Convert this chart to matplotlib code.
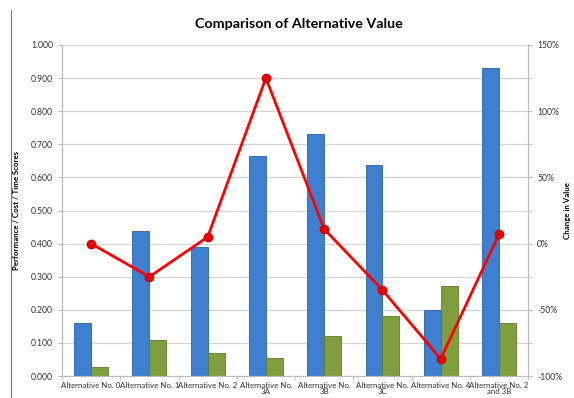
import numpy as np
from matplotlib import pyplot as plt
from matplotlib.lines import Line2D
from matplotlib.ticker import FuncFormatter

plt.rcParams['font.family'] = ['Lato', 'DejaVu Sans']

## DATA:
categories = ["Alternative No. 0", "Alternative No. 1", "Alternative No. 2",
              "Alternative No.\n3A", "Alternative No.\n3B", "Alternative No.\n3C",
              "Alternative No. 4", "Alternative No. 2\nand 3B"]
performance = [0.160, 0.438, 0.390, 0.665, 0.731, 0.637, 0.199, 0.930]
cost_time   = [0.027, 0.109, 0.069, 0.054, 0.121, 0.181, 0.272, 0.160]
change_pct  = [0, -25, 5, 125, 11, -35, -87, 7]
## END DATA

x = np.arange(len(categories))
w = 0.29

fig = plt.figure(figsize=(5.74, 3.98), dpi=100)
ax = fig.add_axes([0.108, 0.055, 0.812, 0.832])

ax.bar(x - w/2, performance, w, color='#3f7fd0', edgecolor='#2e5f9e', linewidth=0.6, zorder=2)
ax.bar(x + w/2, cost_time, w, color='#7f9f3f', edgecolor='#5f7a2c', linewidth=0.6, zorder=2)

ax.set_xlim(-0.5, len(categories) - 0.5)
ax.set_ylim(0, 1.0)
ax.set_yticks(np.arange(0, 1.01, 0.1))
ax.yaxis.set_major_formatter(FuncFormatter(lambda v, p: "%.3f" % v))
ax.grid(axis='y', color='#d4d4d4', linewidth=0.9, zorder=0)
ax.set_axisbelow(True)

ax.set_xticks(x)
ax.set_xticklabels(categories, fontsize=5.7, color='#333333', linespacing=0.9)
ax.set_xticks(np.arange(-0.5, len(categories), 1), minor=True)
ax.tick_params(axis='x', which='major', length=0, pad=4)
ax.tick_params(axis='x', which='minor', length=3, color='#bbbbbb')
ax.tick_params(axis='y', labelsize=6.2, length=3, color='#bbbbbb', labelcolor='#333333')
for s in ax.spines.values():
    s.set_color('#bbbbbb')
ax.spines['top'].set_visible(False)
ax.set_ylabel("Performance / Cost / Time Scores", fontsize=5.7, fontweight='bold')
ax.yaxis.set_label_coords(-0.09, 0.5)

ax2 = ax.twinx()
ax2.plot(x, change_pct, color='#ff0000', linewidth=2, marker='o', markersize=6,
         markerfacecolor='#ee0000', markeredgecolor='#cc0000', zorder=3)
ax2.set_ylim(-100, 150)
ax2.set_yticks(np.arange(-100, 151, 50))
ax2.yaxis.set_major_formatter(FuncFormatter(lambda v, p: "%d%%" % v))
ax2.set_yticks(np.arange(-100, 151, 25), minor=True)
ax2.tick_params(axis='y', which='both', labelsize=6.2, length=3, color='#bbbbbb', labelcolor='#333333')
for s in ax2.spines.values():
    s.set_color('#bbbbbb')
ax2.spines['top'].set_visible(False)
ax2.set_ylabel("Change in Value", fontsize=5.7, fontweight='bold')
ax2.yaxis.set_label_coords(1.078, 0.5)

fig.suptitle("Comparison of Alternative Value", fontsize=10.3, fontweight='bold', x=0.52, y=0.955)

fig.add_artist(Line2D([0.019, 0.019], [0.0, 0.975], color='#777777', linewidth=0.8))

plt.savefig("out.png", dpi=100)
